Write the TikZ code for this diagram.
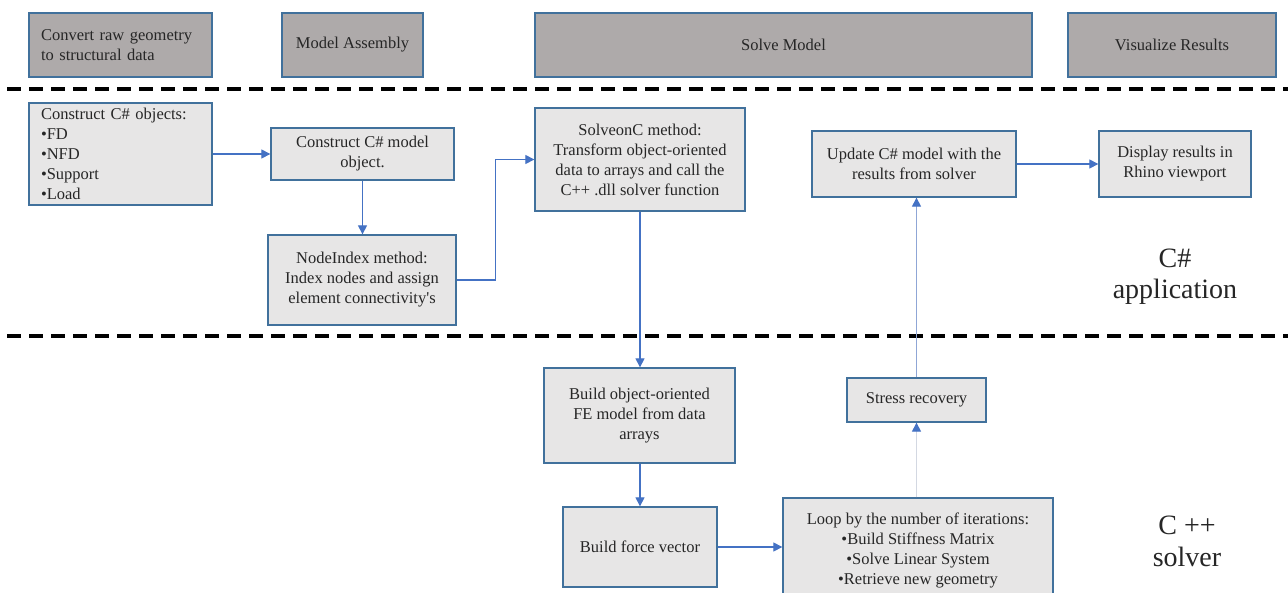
\documentclass[tikz,border=0pt]{standalone}
\usepackage{fontspec}
\setmainfont{Liberation Serif}[Ligatures=TeXOff]
\usetikzlibrary{arrows.meta,calc}
\definecolor{hdrfill}{HTML}{AEAAAA}
\definecolor{boxfill}{HTML}{E7E6E6}
\definecolor{boxline}{HTML}{41719C}
\definecolor{arrblue}{HTML}{4472C4}
\definecolor{lightline}{HTML}{D3D8E2}
\definecolor{midline}{HTML}{8FA6D6}
\definecolor{txt}{HTML}{262626}
\begin{document}
\begin{tikzpicture}[x=1pt,y=-1pt,
  every node/.style={font=\fontsize{16.5}{20}\selectfont, text=txt, inner sep=0pt},
  hdr/.style={draw=boxline, line width=1.3pt, fill=hdrfill},
  stepbox/.style={draw=boxline, line width=1.3pt, fill=boxfill, align=center},
  conn/.style={draw=arrblue, line width=1.1pt, -{Triangle[length=9pt,width=9pt,color=arrblue,fill=arrblue]}},
  sep/.style={line width=3.2pt, dash pattern=on 14pt off 8pt},
  biglabel/.style={align=center}]
\clip (0,0) rectangle (1288,592);
\fill[white] (0,0) rectangle (1288,592);
% header boxes
\node[hdr, minimum width=183, minimum height=64, text width=159, align=left] (h1) at (120.5,45) {Convert raw geometry\\to structural data};
\node[hdr, minimum width=141, minimum height=64] (h2) at (352.5,45) {Model Assembly};
\node[hdr, minimum width=497, minimum height=64] (h3) at (783.5,45) {Solve Model};
\node[hdr, minimum width=208, minimum height=64] (h4) at (1172,45) {Visualize Results};
% separators
\coordinate (s1a) at (7,89);
\coordinate (s1b) at (1288,89);
\coordinate (s2a) at (7,336);
\coordinate (s2b) at (1288,336);
\draw[sep] (s1a) -- (s1b);
\draw[sep] (s2a) -- (s2b);
% C# boxes
\node[stepbox, minimum width=183, minimum height=102, text width=159, align=left] (objects) at (120.5,154) {Construct C\# objects:\\•FD\\•NFD\\•Support\\•Load};
\node[stepbox, minimum width=183, minimum height=52] (model) at (362.5,154) {Construct C\# model\\object.};
\node[stepbox, minimum width=188, minimum height=90] (nodeidx) at (362,280) {NodeIndex method:\\Index nodes and assign\\element connectivity's};
\node[stepbox, minimum width=210, minimum height=103] (solve) at (640,159.5) {SolveonC method:\\Transform object-oriented\\data to arrays and call the\\C++ .dll solver function};
\node[stepbox, minimum width=204, minimum height=66] (update) at (914,164) {Update C\# model with the\\results from solver};
\node[stepbox, minimum width=152, minimum height=66] (display) at (1175,164) {Display results in\\Rhino viewport};
% C++ boxes
\node[stepbox, minimum width=191, minimum height=95] (buildfe) at (639.5,415.5) {Build object-oriented\\FE model from data\\arrays};
\node[stepbox, minimum width=154, minimum height=80] (force) at (640,547) {Build force vector};
\node[stepbox, minimum width=139, minimum height=44] (stress) at (916.5,400) {Stress recovery};
\node[stepbox, minimum width=270, minimum height=104] (loop) at (918,550) {Loop by the number of iterations:\\•Build Stiffness Matrix\\•Solve Linear System\\•Retrieve new geometry};
% labels
\node[biglabel, font=\fontsize{28}{31}\selectfont] (lblcs) at (1175,277) {C\#\\application};
\node[biglabel, font=\fontsize{28}{32}\selectfont] (lblcpp) at (1187,541.5) {C ++\\solver};
% connectors
\draw[conn] (objects.east) -- (model.west);
\draw[conn] (model.south) -- (nodeidx.north -| model.south);
\draw[conn] (nodeidx.east) -- ++(39,0) |- (solve.west);
\draw[conn] (solve.south) -- (buildfe.north -| solve.south);
\draw[conn] (buildfe.south -| force.north) -- (force.north);
\draw[conn] (force.east) -- (force.east -| loop.west);
\draw[conn, draw=lightline] (stress.south |- loop.north) -- (stress.south);
\draw[conn, draw=midline] (stress.north) -- (stress.north |- update.south);
\draw[conn] (update.east) -- (display.west);
\end{tikzpicture}
\end{document}
